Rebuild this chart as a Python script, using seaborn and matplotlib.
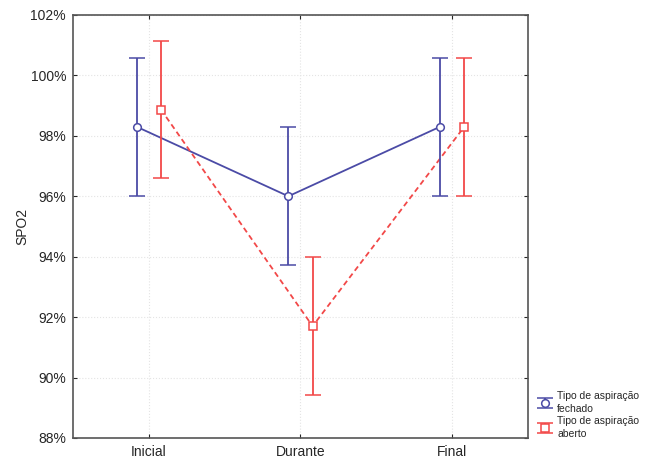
import numpy as np
import pandas as pd
import matplotlib
matplotlib.use("Agg")
import matplotlib.pyplot as plt
import seaborn as sns

# data
momentos = ["Inicial", "Durante", "Final"]
grupos = ["Tipo de aspiração\nfechado", "Tipo de aspiração\naberto"]
media_fechado = [98.3, 96.0, 98.3]
erro_fechado = [2.28, 2.28, 2.28]
media_aberto = [98.87, 91.7, 98.3]
erro_aberto = [2.28, 2.28, 2.28]
y_ticks = [88, 90, 92, 94, 96, 98, 100, 102]

sns.set_style("white")
plt.rcParams["font.family"] = ["Liberation Sans", "DejaVu Sans"]

df = pd.DataFrame({
    "momento": momentos * 2,
    "pos": list(range(3)) * 2,
    "grupo": [grupos[0]] * 3 + [grupos[1]] * 3,
    "media": media_fechado + media_aberto,
    "erro": erro_fechado + erro_aberto,
})
offsets = {grupos[0]: -0.08, grupos[1]: 0.08}
df["x"] = df["pos"] + df["grupo"].map(offsets)

cores = {grupos[0]: "#4b4ba6", grupos[1]: "#f24848"}
estilos = {grupos[0]: "-", grupos[1]: (0, (3, 2))}
marcadores = {grupos[0]: "o", grupos[1]: "s"}

fig = plt.figure(figsize=(6.49, 4.61), dpi=100)
ax = fig.add_axes([0.1125, 0.05, 0.701, 0.9175])

handles = []
for g in grupos:
    sub = df[df["grupo"] == g]
    sns.lineplot(data=sub, x="x", y="media", ax=ax, color=cores[g],
                 linestyle=estilos[g], linewidth=1.3, legend=False, sort=False)
    h = ax.errorbar(sub["x"], sub["media"], yerr=sub["erro"], fmt=marcadores[g],
                    color=cores[g], mfc="white", mec=cores[g], ms=5.5, mew=1.1,
                    elinewidth=1.3, capsize=5.5, capthick=1.3, label=g, zorder=3)
    handles.append(h)

ax.set_xlim(-0.5, 2.5)
ax.set_ylim(88, 102)
ax.set_xticks(range(3))
ax.set_xticklabels(momentos, fontsize=10)
ax.set_yticks(y_ticks)
ax.set_yticklabels([f"{v}%" for v in y_ticks], fontsize=10)
ax.set_xlabel("")
ax.set_ylabel("SPO2", fontsize=10, labelpad=1)
ax.grid(True, color="#e4e4e4", linestyle=":", linewidth=0.8)
ax.tick_params(direction="in", length=3, width=0.8, pad=5,
               top=True, right=True, bottom=True, left=True)
for s in ax.spines.values():
    s.set_color("#555555")
    s.set_linewidth(1.2)

leg = ax.legend(handles=handles, labels=grupos, loc="upper left", bbox_to_anchor=(1.012, 0.12),
                frameon=False, fontsize=7.5, handlelength=1.4, handletextpad=0.5,
                labelspacing=0.2, borderaxespad=0)
for t in leg.get_texts():
    t.set_linespacing(1.35)

fig.savefig("out.png", dpi=100)
